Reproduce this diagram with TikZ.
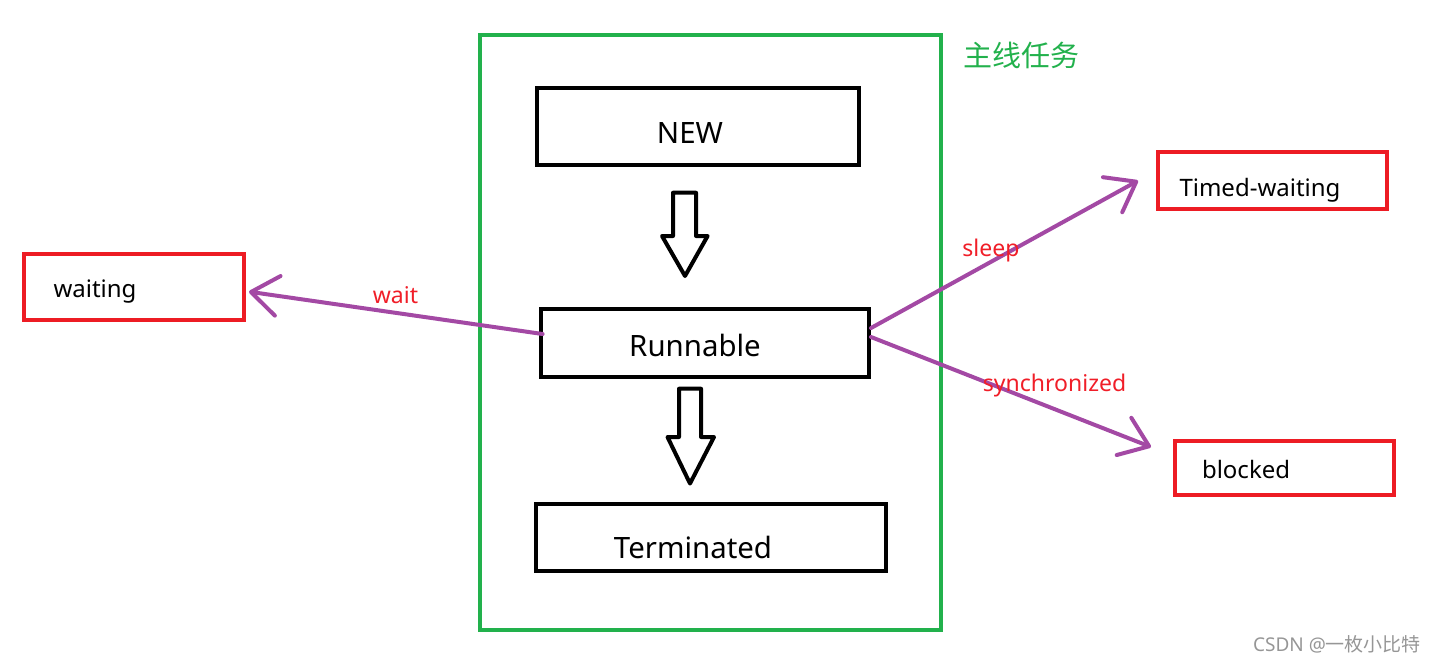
\documentclass[tikz,border=0pt]{standalone}
\usepackage{fontspec}
\setmainfont{Noto Sans}
\newfontfamily\cjk{Noto Sans CJK SC}
\usetikzlibrary{arrows.meta}
\definecolor{pgreen}{RGB}{34,177,76}
\definecolor{pred}{RGB}{237,28,36}
\definecolor{ppurple}{RGB}{163,73,164}
\definecolor{lred}{RGB}{240,30,40}
\definecolor{wmgray}{RGB}{150,150,150}
\begin{document}
\begin{tikzpicture}[x=0.5pt,y=-0.5pt,
  statebox/.style={draw=black, line width=2pt, inner sep=0pt,
    font=\fontsize{14.7pt}{17pt}\selectfont, text depth=0pt},
  sidebox/.style={draw=pred, line width=2pt, inner ysep=0pt, align=left,
    font=\fontsize{12pt}{14pt}\selectfont, text depth=0pt},
  flow/.style={draw=ppurple, line width=2pt, line cap=round,
    -{Straight Barb[length=13.5pt,width=20pt,round]}},
  hollow/.style={draw=black, line width=2pt, line join=round, fill=white},
  lbl/.style={text=lred, font=\fontsize{11.5pt}{14pt}\selectfont, inner sep=0pt, anchor=base west},
]
\useasboundingbox (0,0) rectangle (1439,661);

% main frame
\draw[pgreen, line width=2pt] (480,34.5) rectangle (941,630);
\node[text=pgreen, font=\cjk\fontsize{14.5pt}{17pt}\selectfont, inner sep=0pt] (title) at (1021,55) {主线任务};

% states in main line
\node[statebox, minimum width=161pt, minimum height=38.5pt, text height=17pt] (new) at (698,126.5) {NEW\rule{8pt}{0pt}};
\node[statebox, minimum width=164pt, minimum height=34pt, text height=13.7pt] (run) at (705,343) {Runnable\rule{10pt}{0pt}};
\node[statebox, minimum width=175pt, minimum height=33.5pt, text height=20.8pt] (term) at (711,537.5) {Terminated\rule{18pt}{0pt}};

% hollow block arrows
\draw[hollow] (673,192.7) -- (696,192.7) -- (696,236) -- (707.6,236) -- (685,276) -- (662,236) -- (673,236) -- cycle;
\draw[hollow] (679,388.7) -- (701,388.7) -- (701,437) -- (714,437) -- (690,483.5) -- (667.5,437) -- (679,437) -- cycle;

% side states
\node[sidebox, inner xsep=15pt, text width=80pt, minimum height=33pt, text height=10pt] (waiting) at (133.5,287) {waiting};
\node[sidebox, inner xsep=11pt, text width=92.5pt, minimum height=28.5pt, text height=16pt] (timed) at (1272,180.7) {Timed-waiting};
\node[sidebox, inner xsep=13.5pt, text width=82.4pt, minimum height=26.7pt, text height=10.3pt] (blocked) at (1284.4,468) {blocked};

% transition arrows
\coordinate (wT) at (249,291.7);
\coordinate (sT) at (1138,180.7);
\coordinate (bT) at (1151,447);
\draw[flow] ([xshift=1.8pt,yshift=4.5pt]run.west) -- (wT);
\draw[flow] ([yshift=7.5pt]run.east) -- (sT);
\draw[flow] ([yshift=3pt]run.east) -- (bT);

% labels
\node[lbl] (lwait) at (372.5,303) {wait};
\node[lbl] (lsleep) at (962,256.7) {sleep};
\node[lbl] (lsync) at (982.5,391) {synchronized};

% watermark
\node[text=wmgray, font=\fontsize{9.5pt}{11pt}\selectfont, inner sep=0pt] (wm) at (1337,644) {CSDN @{\cjk 一枚小比特}};
\end{tikzpicture}
\end{document}
